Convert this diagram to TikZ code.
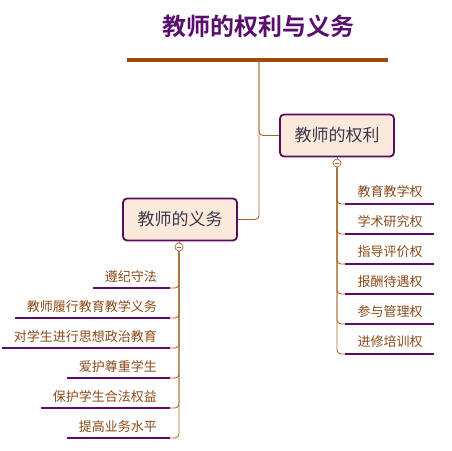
\documentclass[tikz,border=0pt]{standalone}
\usepackage{fontspec}
\setmainfont{Noto Sans CJK SC}
\newfontfamily\cjkb{Noto Sans CJK SC Bold}
\definecolor{ttl}{HTML}{5A0F6E}
\definecolor{brn}{HTML}{9C4A0A}
\definecolor{conn}{HTML}{A8692E}
\definecolor{bord}{HTML}{5C0A5E}
\definecolor{fillp}{HTML}{FBE9DC}
\definecolor{kidtxt}{HTML}{8A4A1A}
\definecolor{ntxt}{HTML}{3A3A4A}
\definecolor{uln}{HTML}{5C0A6E}
\begin{document}
\begin{tikzpicture}[x=1pt,y=-1pt,
  mainbox/.style={draw=bord,line width=1.8pt,fill=fillp,rounded corners=4pt,
    minimum width=114pt,minimum height=42pt,inner sep=0pt,text=ntxt,font=\fontsize{17}{17}\selectfont},
  kid/.style={text=kidtxt,inner sep=0pt,font=\fontsize{13}{13}\selectfont},
  uline/.style={draw=uln,line width=2pt},
  cline/.style={draw=conn,line width=0.9pt,rounded corners=4pt},
  tog/.style={circle,draw=conn,fill=white,line width=0.7pt,minimum size=8pt,inner sep=0pt,
    path picture={\draw[conn,line width=0.7pt] ([xshift=-2.2pt]path picture bounding box.center) -- ([xshift=2.2pt]path picture bounding box.center);}}]
\useasboundingbox (0,0) rectangle (452,450);
\node[text=ttl,font=\cjkb\fontsize{24}{24}\selectfont] (title) at (258,26) {教师的权利与义务};
\coordinate (barL) at (127,60);
\coordinate (barR) at (388,60);
\coordinate (root) at (259,60);
\draw[brn,line width=4pt] (barL) -- (barR);
\node[mainbox] (R) at (337,135.5) {教师的权利};
\node[mainbox] (D) at (180,219.5) {教师的义务};
\draw[cline] (root) |- (R.west);
\draw[cline] (root) |- (D.east);
\node[tog] (tR) at (337,163) {};
\node[tog] (tD) at (179,247) {};
\draw[conn,line width=0.9pt] (R.south) -- (tR.north);
\draw[conn,line width=0.9pt] (D.south -| tD) -- (tD.north);
% right children
\foreach \i/\t in {1/教育教学权,2/学术研究权,3/指导评价权,4/报酬待遇权,5/参与管理权,6/进修培训权}{
  \pgfmathsetmacro{\yy}{204+30*(\i-1)}
  \node[kid] (r\i) at (390,\yy-12) {\t};
  \coordinate (ra\i) at (345,\yy);
  \coordinate (rb\i) at (434,\yy);
  \draw[cline] (tR.south) |- (ra\i);
  \draw[uline] (ra\i) -- (rb\i);
}
% left children
\foreach \i/\t in {1/遵纪守法,2/教师履行教育教学义务,3/对学生进行思想政治教育,4/爱护尊重学生,5/保护学生合法权益,6/提高业务水平}{
  \pgfmathsetmacro{\yy}{288+30*(\i-1)}
  \node[kid,anchor=east] (l\i) at (157,\yy-11) {\t};
  \coordinate (lb\i) at (170,\yy);
  \draw[cline] (tD.south) |- (lb\i);
  \draw[uline] ([xshift=-12pt]l\i.west |- lb\i) -- (lb\i);
}
\end{tikzpicture}
\end{document}
